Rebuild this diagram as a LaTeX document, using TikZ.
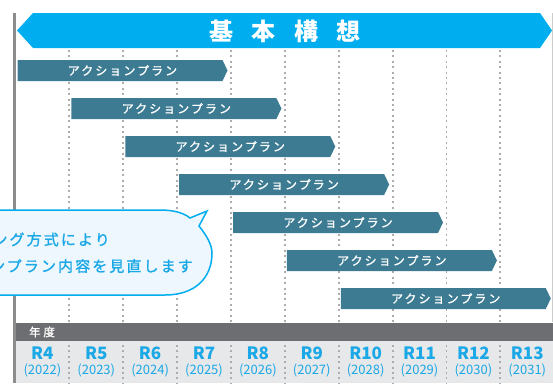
\documentclass[tikz,border=0pt]{standalone}
\usepackage{fontspec}
\setmainfont{Noto Sans CJK JP}
\newfontfamily\jpmedium[FakeBold=1.3]{Noto Sans CJK JP}
\usetikzlibrary{calc}

\definecolor{kousou}{HTML}{00AEEF}
\definecolor{planblue}{HTML}{3D7B93}
\definecolor{nendogray}{HTML}{6D6E71}
\definecolor{yearbg}{HTML}{E6E8EA}
\definecolor{bubblebg}{HTML}{EEF7FD}
\definecolor{yearblue}{HTML}{1BA8E6}

\tikzset{
  planbar/.style={fill=planblue},
  plantext/.style={text=white, inner sep=0pt,
    font=\jpmedium\fontsize{12}{12}\selectfont\addfontfeature{LetterSpace=17}},
  gridline/.style={gray!65, line width=1.9pt,
    dash pattern=on 1.9pt off 3.5pt},
  yeartext/.style={text=yearblue, inner sep=0pt,
    font=\fontsize{17}{17}\selectfont\bfseries},
  yearsub/.style={text=yearblue, inner sep=0pt,
    font=\fontsize{13}{13}\selectfont},
  bubbletext/.style={text=yearblue, inner sep=0pt, anchor=east,
    font=\jpmedium\fontsize{15}{15}\selectfont\addfontfeature{LetterSpace=14}}
}

\begin{document}
\begin{tikzpicture}[x=1pt, y=-1pt]
  \useasboundingbox (0,0) rectangle (553,383);
  \clip (0,0) rectangle (553,383);

  % frame lines
  \draw[gray!90, line width=2.5pt] (14.5,13) -- (14.5,383);
  \draw[gray!40, line width=1pt] (552,13) -- (552,322);

  % year columns
  \foreach \k in {1,...,9}
    \draw[gridline] ({15.5+53.875*\k},50) -- ({15.5+53.875*\k},322);

  % banner
  \fill[kousou] (17,30.5) -- (33,13) -- (540,13) -- (552,30.5)
    -- (540,48) -- (33,48) -- cycle;
  \node[text=white, inner sep=0pt,
    font=\fontsize{24}{24}\selectfont\bfseries\addfontfeature{LetterSpace=76}]
    (title) at (285,31) {基本構想};

  % action plans
  \foreach \i in {0,...,6} {
    \pgfmathsetmacro\xl{17.5+53.875*\i}
    \pgfmathsetmacro\xr{\xl+210}
    \pgfmathsetmacro\yt{60+38*\i}
    \fill[planbar] (\xl,\yt) -- (\xr-5,\yt) -- (\xr,\yt+10.5)
      -- (\xr-5,\yt+21) -- (\xl,\yt+21) -- cycle;
    \node[plantext] (plan\i) at ({(\xl+\xr)/2},\yt+10.5) {アクションプラン};
  }

  % speech bubble
  \filldraw[fill=bubblebg, draw=kousou, line width=1.5pt]
    (-80,210) -- (160,210) .. controls (174,210) and (184,213) .. (190,218)
    -- (207,211) -- (199,226) .. controls (207,236) and (212,245) .. (212,253)
    .. controls (212,278) and (195,295) .. (165,295) -- (-80,295) -- cycle;
  \node[bubbletext] (note1) at (110,239.5) {ローリング方式により};
  \node[bubbletext] (note2) at (193,266) {アクションプラン内容を見直します};

  % year band
  \fill[nendogray] (16,322.5) rectangle (553,341);
  \fill[yearbg] (16,341) rectangle (553,383);
  \node[text=white, inner sep=0pt,
    font=\jpmedium\fontsize{11.5}{11.5}\selectfont\addfontfeature{LetterSpace=25}]
    (nendo) at (42,332) {年度};
  \foreach \k in {1,...,9}
    \draw[gridline] ({15.5+53.875*\k},345) -- ({15.5+53.875*\k},383);
  \foreach \r [count=\k from 0] in {4,...,13} {
    \pgfmathtruncatemacro\yr{2018+\r}
    \node[yeartext] (r\r) at ({42.4+53.875*\k},353) {R\r};
    \node[yearsub] (y\r) at ({42.4+53.875*\k},370.5) {(\yr)};
  }
\end{tikzpicture}
\end{document}
